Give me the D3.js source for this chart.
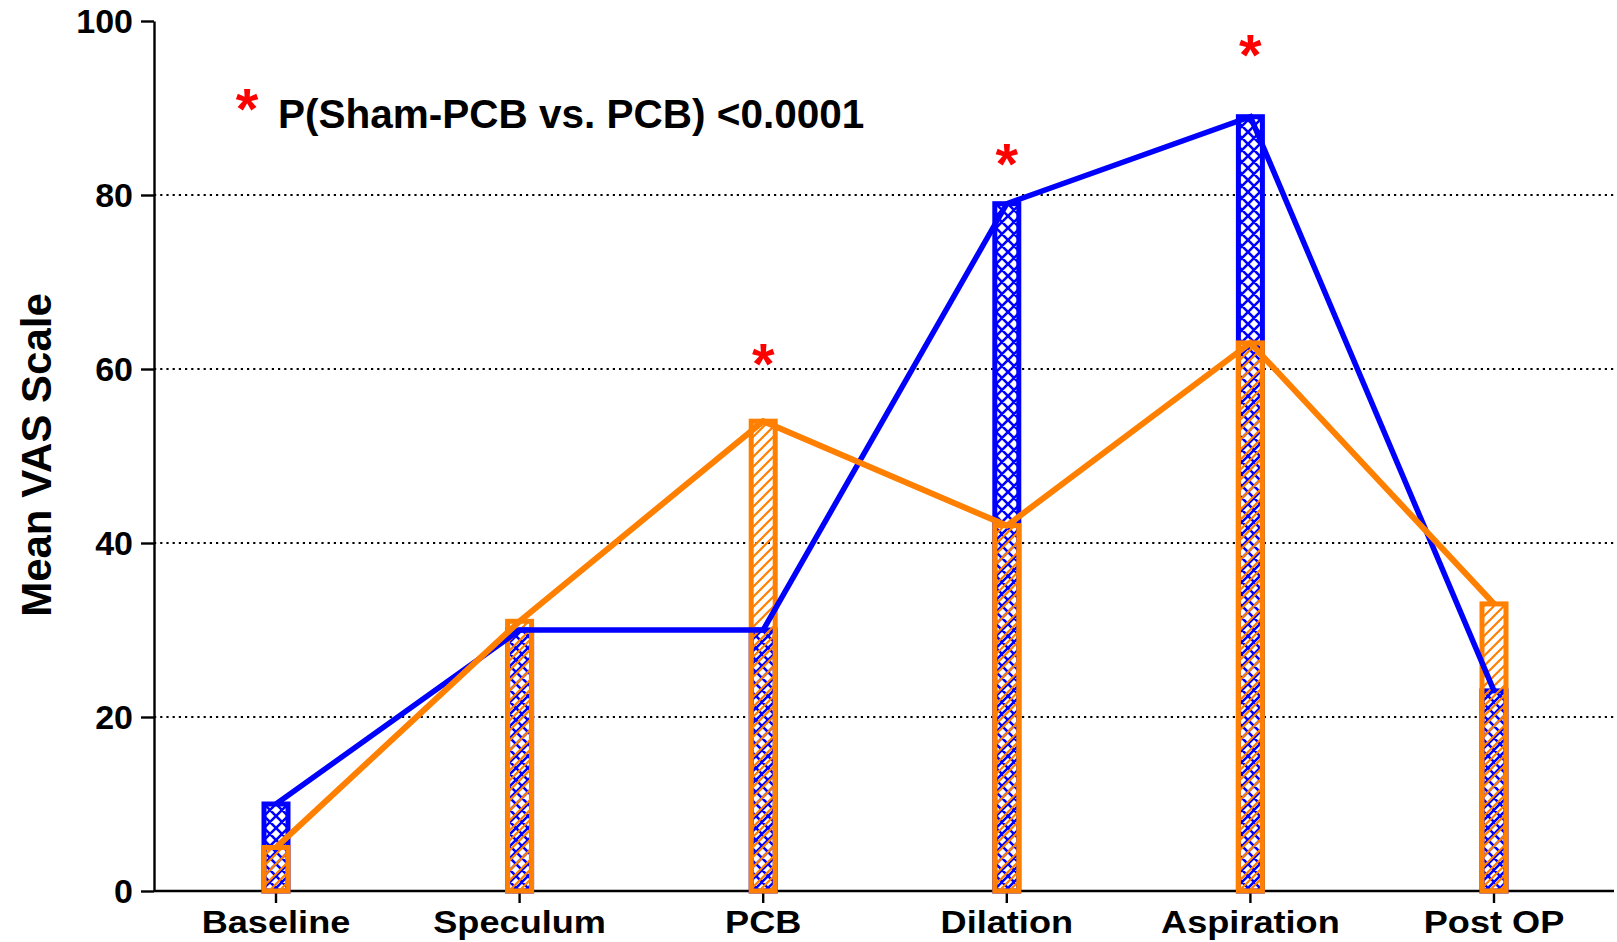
<!DOCTYPE html>
<html>
<head>
<meta charset="utf-8">
<script src="https://cdn.jsdelivr.net/npm/d3@7"></script>
<style>
  html, body { margin: 0; padding: 0; background: #fff; }
  svg { display: block; }
  text { font-family: "Liberation Sans", Arial, Helvetica, sans-serif; font-weight: bold; }
</style>
</head>
<body>
<svg id="chart" width="1617" height="942"></svg>
<script>
// ---- data ----
const categories = ["Baseline", "Speculum", "PCB", "Dilation", "Aspiration", "Post OP"];
const shamPCB = [10, 30, 30, 79, 89, 23];   // blue
const pcb     = [5, 31, 54, 42, 63, 33];    // orange
const yTicks = [0, 20, 40, 60, 80, 100];
const gridValues = [20, 40, 60, 80];
const starCategories = ["PCB", "Dilation", "Aspiration"];
const starValues = [61.5, 84.5, 97];
const legendText = "P(Sham-PCB vs. PCB) <0.0001";
const yLabel = "Mean VAS Scale";

const BLUE = "#0000FF", ORANGE = "#FF8000";

const svg = d3.select("#chart");
const axisX0 = 154, axisX1 = 1614;

const x = d3.scalePoint().domain(categories).range([276, 1494]);
const y = d3.scaleLinear().domain([0, 100]).range([891, 21]);

// patterns
const defs = svg.append("defs");
const W = 12;
const ph = defs.append("pattern").attr("id", "cross").attr("patternUnits", "userSpaceOnUse")
  .attr("width", W).attr("height", W);
ph.append("rect").attr("width", W).attr("height", W).attr("fill", "#fff");
ph.append("path").attr("d", `M0,0L${W},${W}M${W},0L0,${W}M-1,1L1,-1M${W-1},${W+1}L${W+1},${W-1}M-1,${W-1}L1,${W+1}M${W-1},-1L${W+1},1`)
  .attr("stroke", BLUE).attr("stroke-width", 2.6).attr("fill", "none");
const H = 10;
const po = defs.append("pattern").attr("id", "hatch").attr("patternUnits", "userSpaceOnUse")
  .attr("width", H).attr("height", H);
po.append("path").attr("d", `M0,${H}L${H},0M-2,2L2,-2M${H-2},${H+2}L${H+2},${H-2}`)
  .attr("stroke", ORANGE).attr("stroke-width", 2.2).attr("fill", "none");

// grid lines
svg.append("g").selectAll("line").data(gridValues).join("line")
  .attr("x1", axisX0).attr("x2", axisX1)
  .attr("y1", d => y(d)).attr("y2", d => y(d))
  .attr("stroke", "#000").attr("stroke-width", 2.2).attr("stroke-dasharray", "2.2,4");

// y axis
const yAxis = d3.axisLeft(y).tickValues(yTicks).tickSize(13).tickPadding(8).tickSizeOuter(0);
const gy = svg.append("g").attr("transform", `translate(${axisX0},0)`).call(yAxis);
gy.select(".domain").attr("stroke-width", 2.4);
gy.selectAll(".tick line").attr("stroke-width", 2.4);
gy.selectAll(".tick text").attr("font-size", 34).attr("fill", "#000")
  .attr("font-family", "Liberation Sans, Arial, sans-serif").attr("font-weight", "bold")
  .attr("dy", "0.35em");

// x axis
const gx = svg.append("g").attr("transform", `translate(0,${y(0)})`);
gx.append("line").attr("x1", axisX0).attr("x2", axisX1).attr("y1", 0).attr("y2", 0)
  .attr("stroke", "#000").attr("stroke-width", 2.4);
gx.selectAll(".xt").data(categories).join("line").attr("class", "xt")
  .attr("x1", d => x(d)).attr("x2", d => x(d)).attr("y1", 0).attr("y2", 12)
  .attr("stroke", "#000").attr("stroke-width", 2.4);
gx.selectAll(".xl").data(categories).join("text").attr("class", "xl")
  .attr("transform", d => `translate(${x(d)},42) scale(1.13,1)`)
  .attr("text-anchor", "middle").attr("font-size", 32).attr("fill", "#000")
  .text(d => d);

// y label
svg.append("text").attr("transform", `translate(51,455) rotate(-90)`)
  .attr("text-anchor", "middle").attr("font-size", 42).attr("fill", "#000").text(yLabel);

// bars
const barW = 24;
svg.append("g").selectAll("rect").data(shamPCB).join("rect")
  .attr("x", (d, i) => x(categories[i]) - barW / 2).attr("width", barW)
  .attr("y", d => y(d)).attr("height", d => y(0) - y(d))
  .attr("fill", "url(#cross)").attr("stroke", BLUE).attr("stroke-width", 5);
svg.append("g").selectAll("rect").data(pcb).join("rect")
  .attr("x", (d, i) => x(categories[i]) - barW / 2).attr("width", barW)
  .attr("y", d => y(d)).attr("height", d => y(0) - y(d))
  .attr("fill", "url(#hatch)").attr("stroke", ORANGE).attr("stroke-width", 5);

// lines
const line = d3.line().x((d, i) => x(categories[i])).y(d => y(d));
svg.append("path").datum(shamPCB).attr("d", line).attr("fill", "none")
  .attr("stroke", BLUE).attr("stroke-width", 5.5);
svg.append("path").datum(pcb).attr("d", line).attr("fill", "none")
  .attr("stroke", ORANGE).attr("stroke-width", 6);

// significance stars
const starSize = 58;
svg.append("g").selectAll("text").data(starValues).join("text")
  .attr("x", (d, i) => x(starCategories[i]))
  .attr("y", d => y(d) + starSize * 0.48)
  .attr("text-anchor", "middle").attr("font-size", starSize).attr("fill", "#FF0000").text("*");

// legend
svg.append("text").attr("x", 247).attr("y", 101 + starSize * 0.48).attr("text-anchor", "middle")
  .attr("font-size", starSize).attr("fill", "#FF0000").text("*");
svg.append("text").attr("x", 278).attr("y", 128).attr("font-size", 40.5).attr("fill", "#000")
  .text(legendText);
</script>
</body>
</html>
